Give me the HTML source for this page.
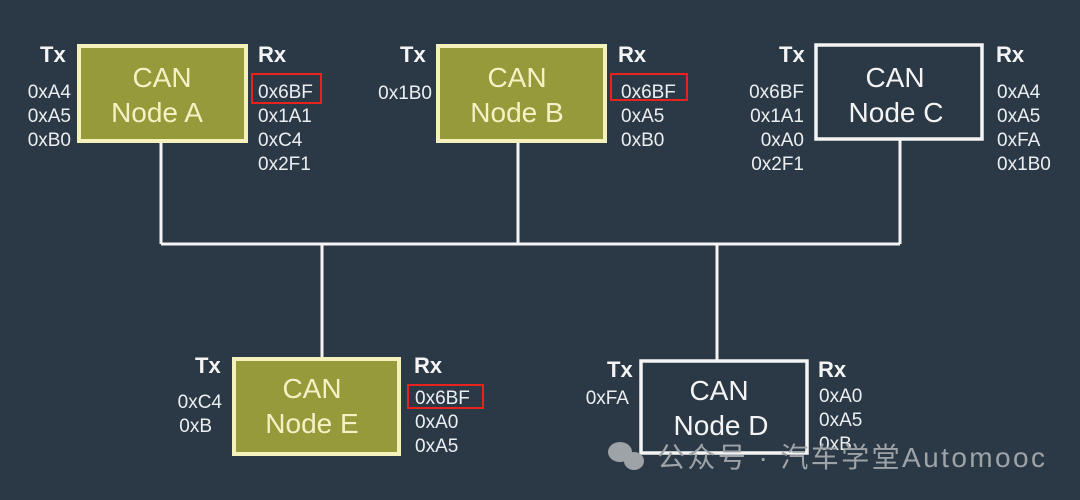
<!DOCTYPE html><html><head><meta charset="utf-8"><style>body{margin:0;background:#2b3845}</style></head><body>
<svg width="1080" height="500" xmlns="http://www.w3.org/2000/svg" style="display:block;font-family:'Liberation Sans',sans-serif">
<rect width="1080" height="500" fill="#2b3845"/>
<g stroke="#f4f4f4" stroke-width="3" fill="none">
<line x1="161" y1="244" x2="900" y2="244"/>
<line x1="161" y1="142" x2="161" y2="244"/>
<line x1="518" y1="142" x2="518" y2="244"/>
<line x1="900" y1="140" x2="900" y2="244"/>
<line x1="322" y1="244" x2="322" y2="357"/>
<line x1="717" y1="244" x2="717" y2="360"/>
</g>
<g fill="#969a3a" stroke="#f4f1bd" stroke-width="4">
<rect x="79" y="46" width="167" height="95"/>
<rect x="438" y="46" width="167" height="95"/>
<rect x="234" y="359" width="165" height="95"/>
</g>
<g fill="none" stroke="#f4f4f4" stroke-width="3.5">
<rect x="816" y="45" width="166" height="94"/>
<rect x="641" y="361" width="166" height="92"/>
</g>
<g font-size="28" text-anchor="middle" fill="#f4f2c4">
<text x="162" y="87">CAN</text><text x="157" y="122">Node A</text>
<text x="517" y="87">CAN</text><text x="517" y="122">Node B</text>
<text x="312" y="398">CAN</text><text x="312" y="433">Node E</text>
</g>
<g font-size="28" text-anchor="middle" fill="#f4f4f4">
<text x="895" y="87">CAN</text><text x="896" y="122">Node C</text>
<text x="719" y="400">CAN</text><text x="721" y="435">Node D</text>
</g>
<g font-size="22" font-weight="bold" fill="#f4f4f4">
<text x="40" y="62">Tx</text><text x="258" y="62">Rx</text>
<text x="400" y="62">Tx</text><text x="618" y="62">Rx</text>
<text x="779" y="62">Tx</text><text x="996" y="62">Rx</text>
<text x="195" y="373">Tx</text><text x="414" y="373">Rx</text>
<text x="607" y="377">Tx</text><text x="818" y="377">Rx</text>
</g>
<g font-size="19" fill="#eceff1">
<g text-anchor="end">
<text x="71" y="98">0xA4</text><text x="71" y="122">0xA5</text><text x="71" y="146">0xB0</text>
<text x="432" y="99">0x1B0</text>
<text x="804" y="98">0x6BF</text><text x="804" y="122">0x1A1</text><text x="804" y="146">0xA0</text><text x="804" y="170">0x2F1</text>
<text x="222" y="408">0xC4</text><text x="212" y="432">0xB</text>
<text x="629" y="404">0xFA</text>
</g>
<text x="258" y="98">0x6BF</text><text x="258" y="122">0x1A1</text><text x="258" y="146">0xC4</text><text x="258" y="170">0x2F1</text>
<text x="621" y="98">0x6BF</text><text x="621" y="122">0xA5</text><text x="621" y="146">0xB0</text>
<text x="997" y="98">0xA4</text><text x="997" y="122">0xA5</text><text x="997" y="146">0xFA</text><text x="997" y="170">0x1B0</text>
<text x="415" y="404">0x6BF</text><text x="415" y="428">0xA0</text><text x="415" y="452">0xA5</text>
<text x="819" y="402">0xA0</text><text x="819" y="426">0xA5</text><text x="819" y="450">0xB</text>
</g>
<g fill="none" stroke="#e8231f" stroke-width="2">
<rect x="252" y="74" width="69" height="29"/>
<rect x="611" y="74" width="76" height="26"/>
<rect x="408" y="385" width="75" height="23"/>
</g>
<g fill="#9ea3a8">
<ellipse cx="620" cy="452" rx="12" ry="10"/>
<ellipse cx="634" cy="461" rx="10" ry="9"/>
</g>
<text x="657" y="467" font-size="28" textLength="388" lengthAdjust="spacing" fill="#9ea3a8" font-family="'Liberation Sans','Noto Sans CJK SC',sans-serif">公众号 · 汽车学堂Automooc</text>
</svg>
</body></html>
